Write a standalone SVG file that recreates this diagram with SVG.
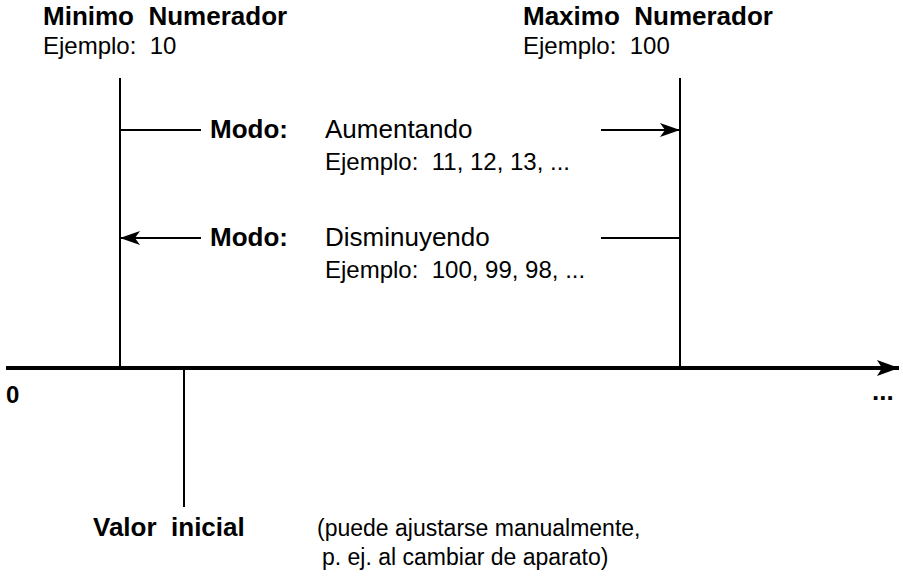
<svg xmlns="http://www.w3.org/2000/svg" width="903" height="576" viewBox="0 0 903 576">
<style>
text{font-family:"Liberation Sans",Arial,Helvetica,sans-serif;fill:#000;white-space:pre}
.b{font-weight:bold;font-size:26px}
.r{font-size:26px}
.s{font-size:24px}
.t{font-size:23px}
.ln{stroke:#000;stroke-width:2;fill:none}
</style>
<defs>
<marker id="ah" markerWidth="20" markerHeight="14" refX="20" refY="7" orient="auto" markerUnits="userSpaceOnUse"><path d="M0,0 L20,7 L0,14 L5,7 Z" fill="#000"/></marker>
<marker id="ahb" markerWidth="22" markerHeight="16" refX="22" refY="8" orient="auto" markerUnits="userSpaceOnUse"><path d="M0,0 L22,8 L0,16 L5,8 Z" fill="#000"/></marker>
</defs>
<g id="min">
<text class="b" x="43" y="25" xml:space="preserve">Minimo  Numerador</text>
<text class="s" x="43" y="54" xml:space="preserve">Ejemplo:  10</text>
</g>
<g id="max">
<text class="b" x="523" y="25" xml:space="preserve">Maximo  Numerador</text>
<text class="s" x="523" y="54" xml:space="preserve">Ejemplo:  100</text>
</g>
<g id="up">
<text class="b" x="210" y="138">Modo:</text>
<text class="r" x="325" y="138">Aumentando</text>
<text class="s" x="325" y="170" xml:space="preserve">Ejemplo:  11, 12, 13, ...</text>
</g>
<g id="down">
<text class="b" x="210" y="246">Modo:</text>
<text class="r" x="325" y="246">Disminuyendo</text>
<text class="s" x="325" y="278" xml:space="preserve">Ejemplo:  100, 99, 98, ...</text>
</g>
<g id="axislabels">
<text class="b" x="6" y="403" style="font-size:24px">0</text>
<text class="b" x="872" y="400">...</text>
</g>
<g id="init">
<text class="b" x="93" y="536" xml:space="preserve">Valor  inicial</text>
<text class="t" x="317" y="536">(puede ajustarse manualmente,</text>
<text class="t" x="322" y="565">p. ej. al cambiar de aparato)</text>
</g>
<g id="connectors">
<line class="ln" x1="120" y1="78" x2="120" y2="368"/>
<line class="ln" x1="680" y1="78" x2="680" y2="368"/>
<line class="ln" x1="184" y1="368" x2="184" y2="507"/>
<line x1="6" y1="368" x2="899" y2="368" stroke="#000" stroke-width="4" marker-end="url(#ahb)"/>
<line class="ln" x1="120" y1="130" x2="201" y2="130"/>
<line class="ln" x1="601" y1="130" x2="680" y2="130" marker-end="url(#ah)"/>
<line class="ln" x1="201" y1="238" x2="120" y2="238" marker-end="url(#ah)"/>
<line class="ln" x1="601" y1="238" x2="680" y2="238"/>
</g>
</svg>
